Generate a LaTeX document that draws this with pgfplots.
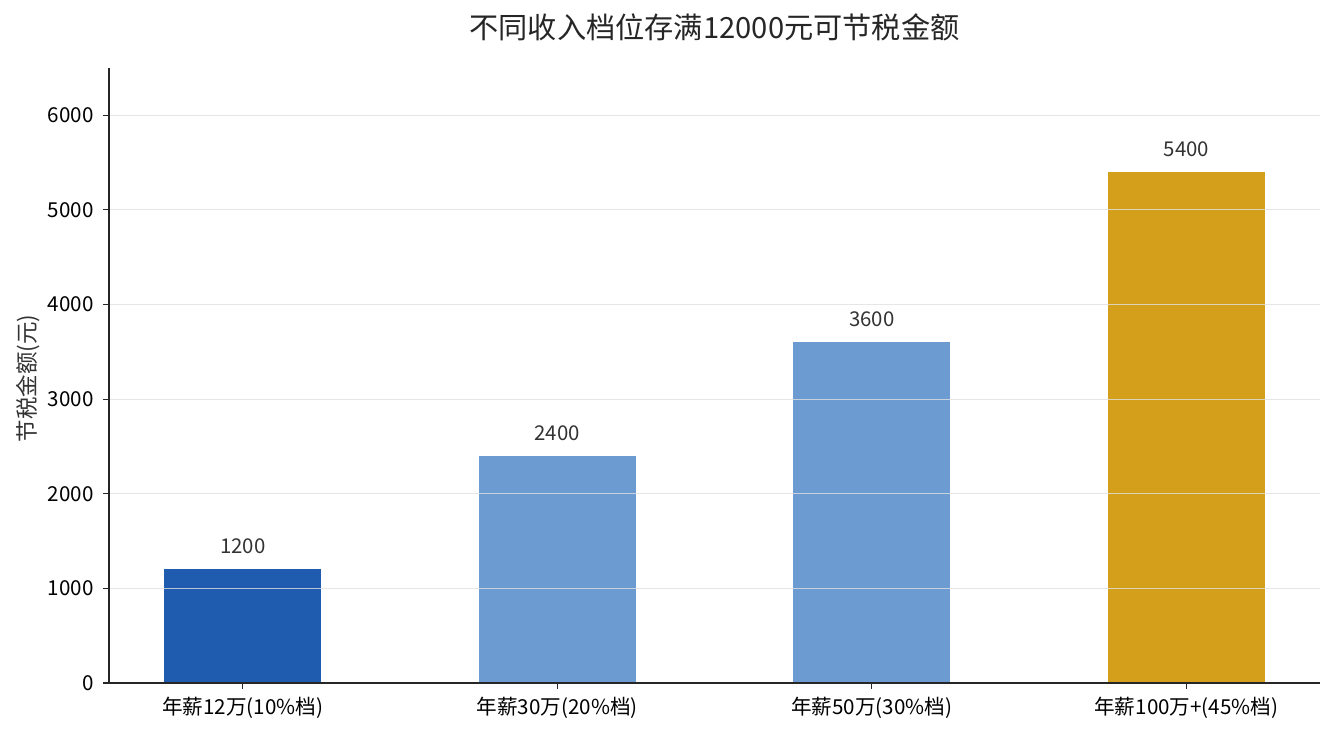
\documentclass[border=0pt]{standalone}
\usepackage{pgfplots}
\pgfplotsset{compat=1.18}
\usepackage{fontspec}
\setmainfont{Noto Sans CJK SC}
\definecolor{barA}{HTML}{1F5BAF}
\definecolor{barB}{HTML}{6C9BD2}
\definecolor{barC}{HTML}{D4A01B}
\definecolor{txt}{HTML}{333333}
\definecolor{ttl}{HTML}{262626}
\begin{document}
\begin{tikzpicture}
\path[use as bounding box] (-109pt,-52pt) rectangle (1225pt,683pt);
\begin{axis}[
  at={(0pt,0pt)}, anchor=south west,
  scale only axis, width=1211pt, height=615pt,
  xmin=-0.425, xmax=3.425, ymin=0, ymax=6500,
  axis x line*=bottom, axis y line*=left,
  axis line style={line width=1.3pt, black!85},
  tick style={line width=1.1pt, black!85},
  tick align=outside, major tick length=6pt,
  xtick={0,1,2,3},
  xticklabels={年薪12万(10\%档),年薪30万(20\%档),年薪50万(30\%档),年薪100万+(45\%档)},
  ytick={0,1000,2000,3000,4000,5000,6000},
  /pgf/number format/assume math mode=true,
  /pgf/number format/1000 sep={},
  ticklabel style={font=\fontsize{20.6}{24}\selectfont, color=black},
  xticklabel style={yshift=-5pt},
  yticklabel style={xshift=-6pt},
  ymajorgrids, grid style={color=white!88!black, line width=1pt, opacity=0.8},
  axis on top,
  ybar, bar width=0.5, bar shift=0pt,
  clip=false,
  nodes near coords,
  every node near coord/.append style={font=\fontsize{20.4}{24}\selectfont, color=txt, anchor=south, inner sep=0pt, yshift=15pt},
]
\addplot[fill=barA, draw=none] coordinates {(0,1200)};
\addplot[fill=barB, draw=none] coordinates {(1,2400)};
\addplot[fill=barB, draw=none] coordinates {(2,3600)};
\addplot[fill=barC, draw=none] coordinates {(3,5400)};
\node[font=\fontsize{29.2}{33}\selectfont, color=ttl, anchor=center] at ([yshift=41pt]rel axis cs:0.5,1) {不同收入档位存满12000元可节税金额};
\node[font=\fontsize{22.5}{26}\selectfont, color=txt, anchor=center, rotate=90] at ([xshift=-81pt,yshift=-3pt]rel axis cs:0,0.5) {节税金额(元)};
\end{axis}
\end{tikzpicture}
\end{document}
